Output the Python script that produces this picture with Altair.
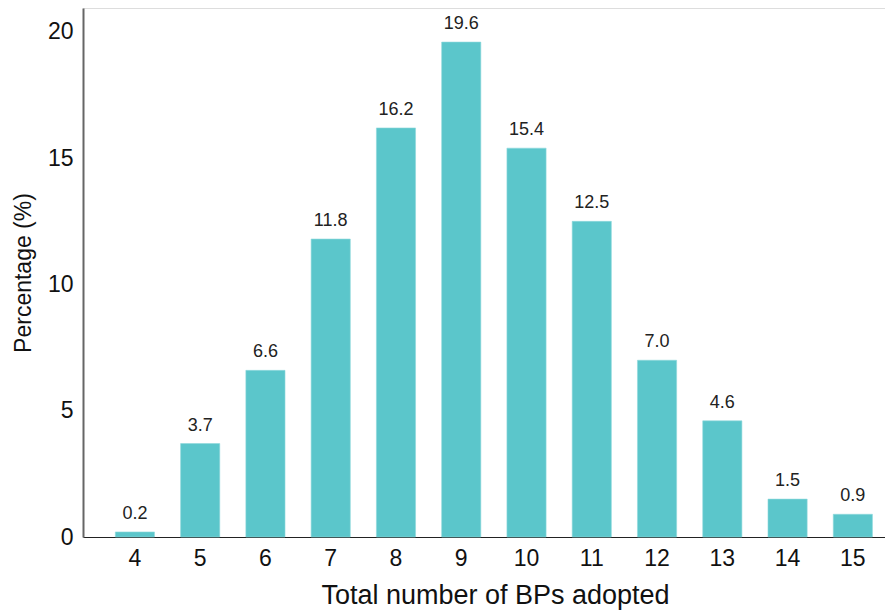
import altair as alt
import pandas as pd

bps = [4, 5, 6, 7, 8, 9, 10, 11, 12, 13, 14, 15]
pct = [0.2, 3.7, 6.6, 11.8, 16.2, 19.6, 15.4, 12.5, 7.0, 4.6, 1.5, 0.9]
y_ticks = [0, 5, 10, 15, 20]

df = pd.DataFrame({"bps": bps, "pct": pct})
df["label"] = [f"{v:.1f}" for v in pct]

FONT = "Liberation Sans"

x = alt.X("bps:O", sort=bps,
          scale=alt.Scale(paddingInner=0.4, paddingOuter=0.344, align=0.72),
          axis=alt.Axis(title="Total number of BPs adopted", labelAngle=0, ticks=False,
                        labelFontSize=23, titleFontSize=27, labelPadding=10, titlePadding=12,
                        titleX=412, titleAlign="center",
                        domainColor="#222222", domainWidth=1.2, labelColor="#111111",
                        titleColor="#111111", titleFontWeight="normal", labelFont=FONT, titleFont=FONT))
y = alt.Y("pct:Q", scale=alt.Scale(domain=[0, 20.95], nice=False),
          axis=alt.Axis(title="Percentage (%)", values=y_ticks, ticks=False, grid=False,
                        labelFontSize=23, titleFontSize=23, labelPadding=10, titlePadding=12,
                        domainColor="#666666", domainWidth=2, labelColor="#111111",
                        titleColor="#111111", titleFontWeight="normal", labelFont=FONT, titleFont=FONT))

bars = alt.Chart(df).mark_bar(color="#5bc6cb", stroke="#8fd8dc", strokeWidth=0.6).encode(x=x, y=y)
text = alt.Chart(df).mark_text(baseline="alphabetic", dy=-13, fontSize=18, font=FONT,
                               color="#222222").encode(x=alt.X("bps:O", sort=bps), y="pct:Q", text="label:N")

chart = (bars + text).properties(
    width=802, height=529,
    autosize=alt.AutoSizeParams(type="none"),
    padding={"left": 75, "top": 0, "right": 0, "bottom": 74},
).configure_view(stroke=None).configure(background="white")

chart.save("out.html", embed_options={"renderer": "svg", "actions": False})
